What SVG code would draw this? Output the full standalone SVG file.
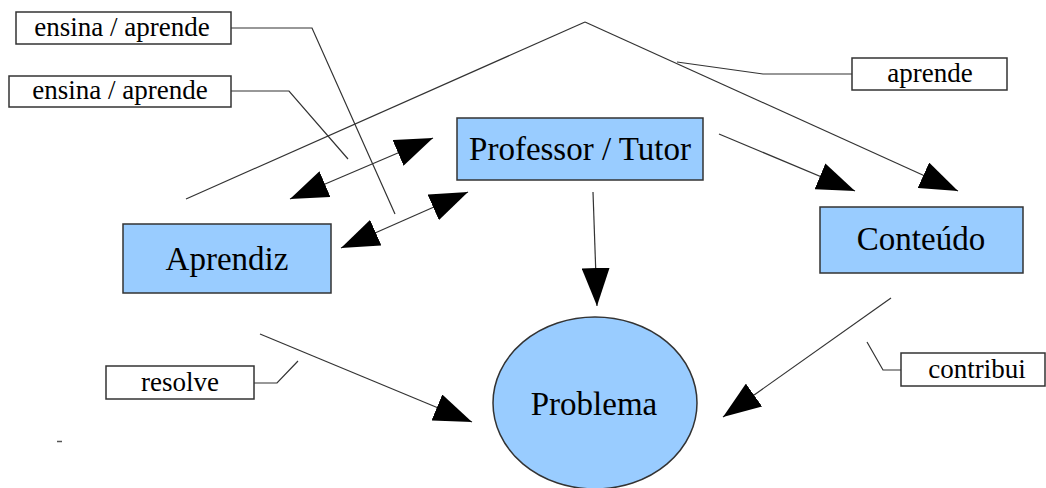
<svg xmlns="http://www.w3.org/2000/svg" width="1046" height="488" viewBox="0 0 1046 488">
<defs>
<style>
.node{fill:#99ccff;stroke:#333;stroke-width:1.5}
.lbl{fill:#fff;stroke:#333;stroke-width:1.5}
.t{fill:#000;text-anchor:middle}
.big{font-size:33px}
.small{font-size:27px}
.ln{fill:none;stroke:#333;stroke-width:1.2}
.arr{fill:none;stroke:#333;stroke-width:1.2;marker-end:url(#ah)}
.darr{fill:none;stroke:#333;stroke-width:1.2;marker-end:url(#ah);marker-start:url(#ah)}
</style>
<marker id="ah" markerUnits="userSpaceOnUse" markerWidth="38" markerHeight="28" viewBox="0 0 38 28" refX="38" refY="14" orient="auto-start-reverse">
<path d="M0,0 L38,14 L0,28 Z" fill="#000"/>
</marker>
</defs>
<rect width="1046" height="488" fill="#fff"/>
<g id="connectors">
<path class="ln" d="M186,199 L585,22"/>
<path class="arr" d="M585,22 L958,191"/>
<path class="darr" d="M290,199 L433,138"/>
<path class="darr" d="M341,248 L468,192"/>
<path class="arr" d="M719,134 L855,191"/>
<path class="arr" d="M593,192 L597,306"/>
<path class="arr" d="M260,334 L472,422"/>
<path class="arr" d="M891,298 L723,417"/>
<path class="ln" d="M231,28 L312,28 L395,214"/>
<path class="ln" d="M231,91 L289,91 L348,159"/>
<path class="ln" d="M677,62 L763,74 L852,74"/>
<path class="ln" d="M254,383 L277,383 L298,361"/>
<path class="ln" d="M901,370 L883,370 L867,342"/>
<path d="M57,441.5 L62,441.5" stroke="#555" stroke-width="1.5"/>
</g>
<g font-family="'Liberation Serif', Tinos, 'Times New Roman', 'DejaVu Serif', serif">
<g id="professor">
<rect class="node" x="457" y="118" width="246" height="62"/>
<text class="t big" x="580" y="160">Professor / Tutor</text>
</g>
<g id="aprendiz">
<rect class="node" x="123" y="224" width="208" height="69"/>
<text class="t big" x="227" y="270">Aprendiz</text>
</g>
<g id="conteudo">
<rect class="node" x="820" y="207" width="203" height="66"/>
<text class="t big" x="921" y="250">Conteúdo</text>
</g>
<g id="problema">
<ellipse class="node" cx="595" cy="403" rx="102" ry="86"/>
<text class="t big" x="594" y="415">Problema</text>
</g>
<g id="label-ensina1">
<rect class="lbl" x="16" y="12" width="215" height="32"/>
<text class="t small" x="122" y="36">ensina / aprende</text>
</g>
<g id="label-ensina2">
<rect class="lbl" x="9" y="76" width="222" height="31"/>
<text class="t small" x="120" y="99">ensina / aprende</text>
</g>
<g id="label-aprende">
<rect class="lbl" x="852" y="58" width="155" height="32"/>
<text class="t small" x="930" y="82">aprende</text>
</g>
<g id="label-resolve">
<rect class="lbl" x="106" y="366" width="148" height="33"/>
<text class="t small" x="180" y="391">resolve</text>
</g>
<g id="label-contribui">
<rect class="lbl" x="901" y="353" width="144" height="33"/>
<text class="t small" x="977" y="378">contribui</text>
</g>
</g>
</svg>
